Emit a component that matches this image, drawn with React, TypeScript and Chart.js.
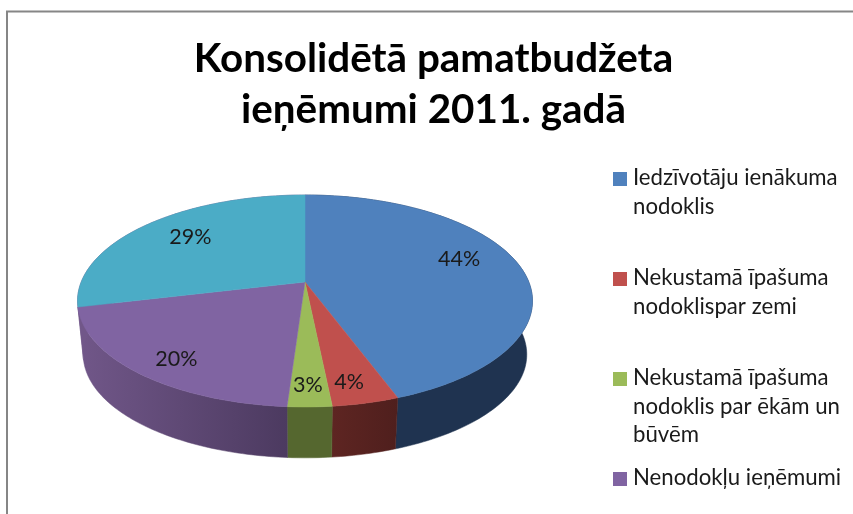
import React, { useEffect, useRef } from "react";
import { Chart, registerables } from "chart.js";

Chart.register(...registerables);

const categories = [
  ["Iedzīvotāju ienākuma", "nodoklis"],
  ["Nekustamā īpašuma", "nodoklispar zemi"],
  ["Nekustamā īpašuma", "nodoklis par ēkām un", "būvēm"],
  ["Nenodokļu ieņēmumi"],
  [],
];
const shares = [44.4, 4.0, 2.65, 20.2, 28.75];
const shareLabels = ["44%", "4%", "3%", "20%", "29%"];
const titleLines = ["Konsolidētā pamatbudžeta", "ieņēmumi 2011. gadā"];
const topColors = ["#4f81bd", "#c0504d", "#9bbb59", "#8064a2", "#4bacc6"];
const wallLeftColors = ["#1f3350", "#5e2522", "#55672f", "#715789", "#715789"];
const wallRightColors = ["#1f3350", "#4f1f1d", "#55672f", "#4c3a60", "#715789"];
const labelRadii = [0.71, 0.85, 0.85, 0.865, 0.77];
const labelNudgeX = [1, -6, -1, 13, 10];
const labelNudgeY = [-10, 0, 0, 0, 0];

const FONT = "Lato";
const CX = 305;
const CY = 282;
const RX = 223.8;
const RY = 102.6;
const K = 0.179;
const DEPTH_Y = 54;
const DEPTH_SCALE = 0.975;

// chart.js angles start at -PI/2 with the default rotation of the pie
function project(angle: number, r: number, lower = false) {
  const x = Math.cos(angle) * r;
  const y = Math.sin(angle) * r;
  const d = 1 - K * y;
  const s = lower ? DEPTH_SCALE : 1;
  return {
    x: CX + (RX * x * s) / d,
    y: CY + (RY * y * s) / d + (lower ? DEPTH_Y : 0),
  };
}

function arcPoints(a0: number, a1: number, lower = false) {
  const n = Math.max(2, Math.ceil(((a1 - a0) * 180) / Math.PI));
  const pts = [];
  for (let i = 0; i <= n; i++) pts.push(project(a0 + ((a1 - a0) * i) / n, 1, lower));
  return pts;
}

const pie3d = {
  id: "pie3d",
  beforeDraw(chart: any) {
    const { ctx } = chart;
    ctx.save();
    ctx.strokeStyle = "#868686";
    ctx.lineWidth = 2;
    ctx.beginPath();
    ctx.moveTo(7, 520);
    ctx.lineTo(7, 11.5);
    ctx.lineTo(860, 11.5);
    ctx.stroke();
    ctx.restore();
  },
  beforeDatasetDraw(chart: any, args: any) {
    const { ctx } = chart;
    const arcs = args.meta.data;
    ctx.save();
    // side walls
    arcs.forEach((arc: any, i: number) => {
      const top = arcPoints(arc.startAngle, arc.endAngle);
      const low = arcPoints(arc.startAngle, arc.endAngle, true);
      const xs = [...top, ...low].map((p) => p.x);
      const g = ctx.createLinearGradient(Math.min(...xs), 0, Math.max(...xs), 0);
      g.addColorStop(0, wallLeftColors[i]);
      g.addColorStop(1, wallRightColors[i]);
      ctx.fillStyle = g;
      ctx.strokeStyle = g;
      ctx.lineWidth = 0.5;
      ctx.beginPath();
      top.forEach((p: any, j: number) => (j ? ctx.lineTo(p.x, p.y) : ctx.moveTo(p.x, p.y)));
      low.reverse().forEach((p: any) => ctx.lineTo(p.x, p.y));
      ctx.closePath();
      ctx.fill();
      ctx.stroke();
    });
    // top faces
    arcs.forEach((arc: any, i: number) => {
      const top = arcPoints(arc.startAngle, arc.endAngle);
      ctx.fillStyle = topColors[i];
      ctx.strokeStyle = topColors[i];
      ctx.lineWidth = 0.5;
      ctx.beginPath();
      ctx.moveTo(CX, CY);
      top.forEach((p: any) => ctx.lineTo(p.x, p.y));
      ctx.closePath();
      ctx.fill();
      ctx.stroke();
    });
    // value labels
    ctx.fillStyle = "#1a1a1a";
    ctx.font = `21.5px ${FONT}`;
    ctx.textAlign = "center";
    ctx.textBaseline = "middle";
    arcs.forEach((arc: any, i: number) => {
      const p = project((arc.startAngle + arc.endAngle) / 2, labelRadii[i]);
      ctx.fillText(shareLabels[i], p.x + labelNudgeX[i], p.y + labelNudgeY[i]);
    });
    ctx.restore();
    return false;
  },
  afterDraw(chart: any) {
    const { ctx } = chart;
    ctx.save();
    ctx.font = `22.2px ${FONT}`;
    ctx.textAlign = "left";
    ctx.textBaseline = "alphabetic";
    categories.forEach((lines, i) => {
      if (!lines.length) return;
      const base = 185 + i * 100;
      ctx.fillStyle = topColors[i];
      ctx.fillRect(613, base - 13, 14, 14);
      ctx.fillStyle = "#1a1a1a";
      lines.forEach((line, j) => ctx.fillText(line, 633, base + j * 28.7));
    });
    ctx.restore();
  },
};

export default function App() {
  const ref = useRef<HTMLCanvasElement>(null);
  useEffect(() => {
    const chart = new Chart(ref.current as HTMLCanvasElement, {
      type: "pie",
      data: {
        labels: categories.map((c) => c.join(" ")),
        datasets: [{ data: shares, backgroundColor: topColors, borderWidth: 0 }],
      },
      options: {
        responsive: false,
        animation: false,
        layout: { padding: { left: 14, top: 33 } },
        plugins: {
          legend: { display: false },
          tooltip: { enabled: false },
          title: {
            display: true,
            text: titleLines,
            color: "#000000",
            font: { family: FONT, size: 40.4, weight: "bold", lineHeight: 1.27 },
            padding: { top: 0, bottom: 0 },
          },
        },
      },
      plugins: [pie3d],
    } as any);
    return () => chart.destroy();
  }, []);
  return (
    <div style={{ position: "absolute", left: 0, top: 0, width: 853, height: 514, overflow: "hidden", background: "#fff" }}>
      <canvas ref={ref} width={853} height={514} style={{ display: "block" }} />
    </div>
  );
}
